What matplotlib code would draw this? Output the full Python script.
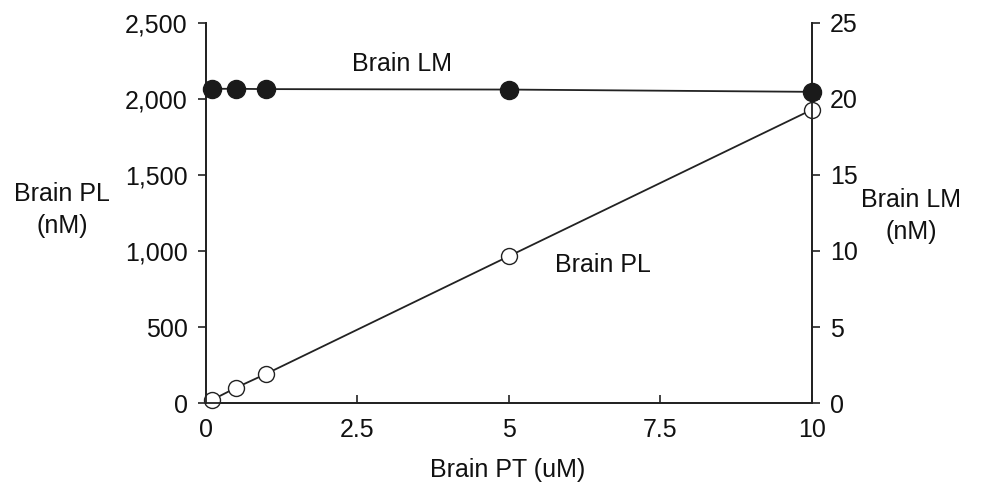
import matplotlib
matplotlib.use("Agg")
import matplotlib.pyplot as plt
from matplotlib.ticker import FuncFormatter

plt.rcParams['font.family'] = ['Liberation Sans', 'DejaVu Sans']

brain_pt = [0.1, 0.5, 1.0, 5.0, 10.0]
brain_pl = [20, 101, 193, 965, 1928]
brain_lm = [20.65, 20.65, 20.63, 20.6, 20.45]

x_ticks = [0, 2.5, 5, 7.5, 10]
x_tick_labels = ["0", "2.5", "5", "7.5", "10"]
left_ticks = [0, 500, 1000, 1500, 2000, 2500]
right_ticks = [0, 5, 10, 15, 20, 25]

fig = plt.figure(figsize=(9.89, 4.91), dpi=100)
ax = fig.add_axes([0.208, 0.179, 0.613, 0.775])
ax2 = ax.twinx()

fs = 18
ax.plot(brain_pt, brain_pl, color='#222222', lw=1.3, marker='o', ms=11.5,
        mfc='white', mec='#222222', mew=1.0, zorder=3, clip_on=False)
ax2.plot(brain_pt, brain_lm, color='#222222', lw=1.3, marker='o', ms=13,
         mfc='#1a1a1a', mec='#1a1a1a', zorder=3, clip_on=False)

ax.set_xlim(0, 10)
ax.set_ylim(0, 2500)
ax2.set_ylim(0, 25)
ax.set_xticks(x_ticks)
ax.set_xticklabels(x_tick_labels)
ax.set_yticks(left_ticks)
ax.yaxis.set_major_formatter(FuncFormatter(lambda v, p: f"{int(v):,}"))
ax2.set_yticks(right_ticks)

for a in (ax, ax2):
    a.spines['top'].set_visible(False)
    for s in a.spines.values():
        s.set_linewidth(1.3)
        s.set_color('#222222')

ax.tick_params(axis='x', direction='in', length=6, width=1.2, labelsize=fs, pad=11, colors='#222222')
ax.tick_params(axis='y', direction='out', length=6, width=1.2, labelsize=fs, pad=7, colors='#222222')
ax2.tick_params(axis='y', direction='out', length=6, width=1.2, labelsize=fs, pad=7, colors='#222222')
for lab in ax.get_xticklabels() + ax.get_yticklabels() + ax2.get_yticklabels():
    lab.set_color('#111111')

fig.text(62/989, 1-210/491, "Brain PL\n(nM)", ha='center', va='center', fontsize=fs,
         color='#111111', linespacing=1.45)
fig.text(911/989, 1-216/491, "Brain LM\n(nM)", ha='center', va='center', fontsize=fs,
         color='#111111', linespacing=1.45)
fig.text(508/989, 1-470/491, "Brain PT (uM)", ha='center', va='center', fontsize=fs, color='#111111')
ax.text(3.23, 2225, "Brain LM", ha='center', va='center', fontsize=fs, color='#111111')
ax.text(6.55, 905, "Brain PL", ha='center', va='center', fontsize=fs, color='#111111')

fig.savefig("out.png", dpi=100, facecolor='white')
